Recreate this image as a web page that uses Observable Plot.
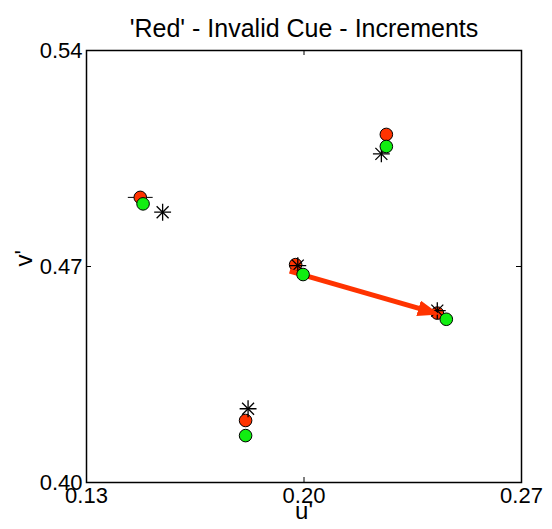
<!DOCTYPE html>
<html>
<head>
<meta charset="utf-8">
<script src="https://cdn.jsdelivr.net/npm/d3@7"></script>
<script src="https://cdn.jsdelivr.net/npm/@observablehq/plot@0.6"></script>
<style>
  html, body { margin: 0; padding: 0; background: #fff; }
  #chart svg { display: block; }
</style>
</head>
<body>
<div id="chart"></div>
<script>
const title = "'Red' - Invalid Cue - Increments";
const xLabel = "u'";
const yLabel = "v'";
const xTicks = [0.13, 0.20, 0.27];
const yTicks = [0.40, 0.47, 0.54];

const redU = [0.1473, 0.2265, 0.1973, 0.2429, 0.1812];
const redV = [0.4924, 0.5128, 0.4706, 0.4549, 0.4201];
const redErrU = [0.0040, 0, 0, 0, 0];

const greenU = [0.1482, 0.2265, 0.1997, 0.2458, 0.1812];
const greenV = [0.4903, 0.5089, 0.4674, 0.4529, 0.4152];

const starU = [0.1545, 0.2249, 0.1980, 0.2429, 0.1820];
const starV = [0.4876, 0.5065, 0.4703, 0.4557, 0.4239];

const arrowU = [0.1954, 0.2412];
const arrowV = [0.4685, 0.4552];

const red = "#ff3300";
const green = "#11ee11";
const font = "'Liberation Sans', Arial, Helvetica, sans-serif";

const W = 552, H = 529;
const mL = 86, mR = 31, mT = 50, mB = 47;
const pw = W - mL - mR, ph = H - mT - mB;

const idx = d3.range(redU.length);
const errIdx = idx.filter(i => redErrU[i] > 0);

function filledHead(color) {
  const m = d3.create("svg:marker")
    .attr("viewBox", "0 -8 22 16")
    .attr("markerWidth", 22).attr("markerHeight", 16)
    .attr("markerUnits", "userSpaceOnUse")
    .attr("refX", 14).attr("refY", 0)
    .attr("orient", "auto")
    .attr("fill", color).attr("stroke", "none");
  m.append("path").attr("d", "M0,-8L22,0L0,8Z");
  return m.node();
}

const chart = Plot.plot({
  width: W, height: H,
  marginLeft: mL, marginRight: mR, marginTop: mT, marginBottom: mB,
  style: { fontFamily: font, background: "#fff", color: "#000" },
  x: { domain: [0.13, 0.27] },
  y: { domain: [0.40, 0.54] },
  marks: [
    Plot.frame({ stroke: "#000", strokeWidth: 1.5 }),
    Plot.tickX(xTicks, { x: d => d, insetTop: ph - 5, stroke: "#000" }),
    Plot.tickX(xTicks, { x: d => d, insetBottom: ph - 5, stroke: "#000" }),
    Plot.tickY(yTicks, { y: d => d, insetRight: pw - 5, stroke: "#000" }),
    Plot.tickY(yTicks, { y: d => d, insetLeft: pw - 5, stroke: "#000" }),
    Plot.axisX({ ticks: xTicks, tickFormat: d3.format(".2f"), tickSize: 0, tickPadding: 5, fontSize: 22, label: null }),
    Plot.axisY({ ticks: yTicks, tickFormat: d3.format(".2f"), tickSize: 0, tickPadding: 4, fontSize: 22, label: null }),
    Plot.link(errIdx, { x1: i => redU[i] - redErrU[i], x2: i => redU[i] + redErrU[i], y1: i => redV[i], y2: i => redV[i], stroke: "#000", strokeWidth: 1 }),
    Plot.dot(idx, { x: i => redU[i], y: i => redV[i], r: 6.3, fill: red, stroke: "#000", strokeWidth: 1 }),
    Plot.dot(idx, { x: i => starU[i], y: i => starV[i], r: 5.5, symbol: "plus", stroke: "#000", strokeWidth: 1.3 }),
    Plot.dot(idx, { x: i => starU[i], y: i => starV[i], r: 5.5, symbol: "times", stroke: "#000", strokeWidth: 1.3 }),
    Plot.link([0], { x1: () => arrowU[0], y1: () => arrowV[0], x2: () => arrowU[1], y2: () => arrowV[1], stroke: red, strokeWidth: 5, markerEnd: filledHead }),
    Plot.dot(idx, { x: i => greenU[i], y: i => greenV[i], r: 6.3, fill: green, stroke: "#000", strokeWidth: 1 }),
    Plot.text([title], { frameAnchor: "top", dy: -14, lineAnchor: "bottom", fontSize: 25, text: d => d, fill: "#000" }),
    Plot.text([xLabel], { frameAnchor: "bottom", dy: 19, lineAnchor: "top", fontSize: 24, text: d => d, fill: "#000" }),
    Plot.text([yLabel], { frameAnchor: "left", dx: -62, rotate: -90, fontSize: 24, text: d => d, fill: "#000" })
  ]
});
document.getElementById("chart").appendChild(chart);
</script>
</body>
</html>
